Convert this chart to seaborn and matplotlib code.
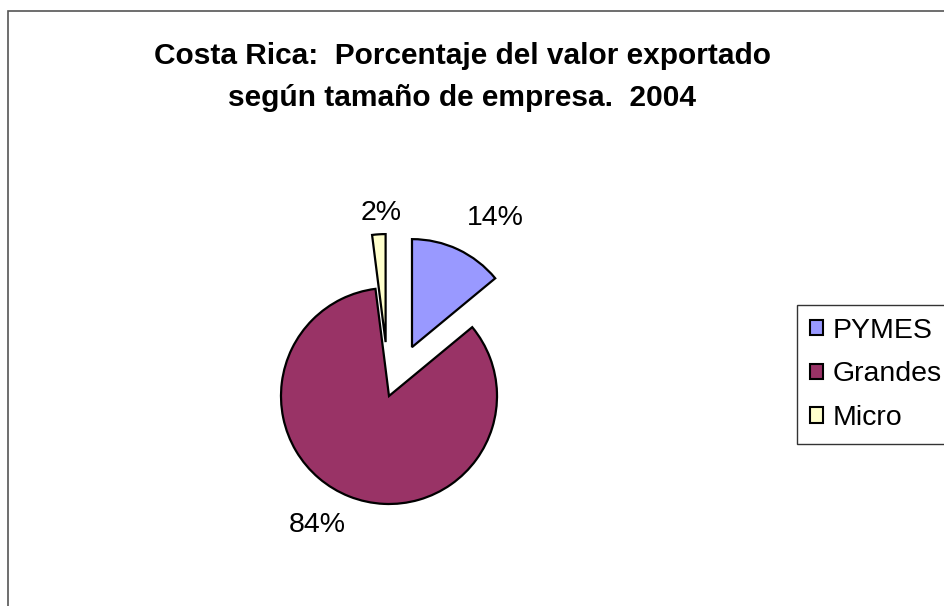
import numpy as np
import matplotlib
matplotlib.use("Agg")
import matplotlib.pyplot as plt
from matplotlib.patches import Rectangle, Patch
import seaborn as sns

categories = ["PYMES", "Grandes", "Micro"]
values = [14, 84, 2]
colors = ["#9999FF", "#993366", "#FFFFCC"]
explode = [0.5, 0.0, 0.5]
title = "Costa Rica:  Porcentaje del valor exportado\nsegún tamaño de empresa.  2004"

sns.set_theme(style="white")
plt.rcParams["font.family"] = ["Liberation Sans", "DejaVu Sans"]
plt.rcParams["text.color"] = "black"

W, H = 945, 606
fig = plt.figure(figsize=(W / 100, H / 100), dpi=100)
fig.patch.set_facecolor("white")

# outer border (chart area frame)
fig.patches.append(Rectangle((8 / W, -0.05), 1.1, 1 - 11 / H + 0.05,
                             transform=fig.transFigure, fill=False,
                             edgecolor="#555555", linewidth=1.2, clip_on=False))

cx, cy, r = 389, 396, 108
span = 1.7
half = span * r
ax = fig.add_axes([(cx - half) / W, (H - cy - half) / H, 2 * half / W, 2 * half / H])
wedges, _ = ax.pie(values, colors=colors, explode=explode, startangle=90,
                   counterclock=False, radius=1.0,
                   wedgeprops=dict(edgecolor="black", linewidth=1.6))
ax.set_xlim(-span, span)
ax.set_ylim(-span, span)
ax.set_aspect("equal")
ax.axis("off")

# percentage labels placed around each wedge
label_dist = [1.92, 1.37, 1.70]
label_shift = [-5.5, -7.5, -1.0]
for w, v, d, s in zip(wedges, values, label_dist, label_shift):
    mid = np.deg2rad((w.theta1 + w.theta2) / 2 + s)
    ax.text(d * np.cos(mid), d * np.sin(mid), f"{v}%", ha="center", va="center",
            fontsize=20.5, color="black")

fig.text(0.489, 1 - 77 / H, title, ha="center", va="center", fontsize=21.5,
         fontweight="bold", linespacing=1.6, color="black")

handles = [Patch(facecolor=c, edgecolor="black", linewidth=1.5) for c in colors]
leg = fig.legend(handles, categories, loc="upper left",
                 bbox_to_anchor=(797 / W, 1 - 305 / H), fontsize=20.5,
                 frameon=True, fancybox=False, shadow=False, borderaxespad=0,
                 handlelength=0.45, handleheight=0.45, handletextpad=0.35,
                 labelspacing=0.62, borderpad=0.45)
for t in leg.get_texts():
    t.set_color("black")
leg.get_frame().set_edgecolor("black")
leg.get_frame().set_linewidth(1.0)

fig.savefig("out.png", dpi=100, facecolor="white")
